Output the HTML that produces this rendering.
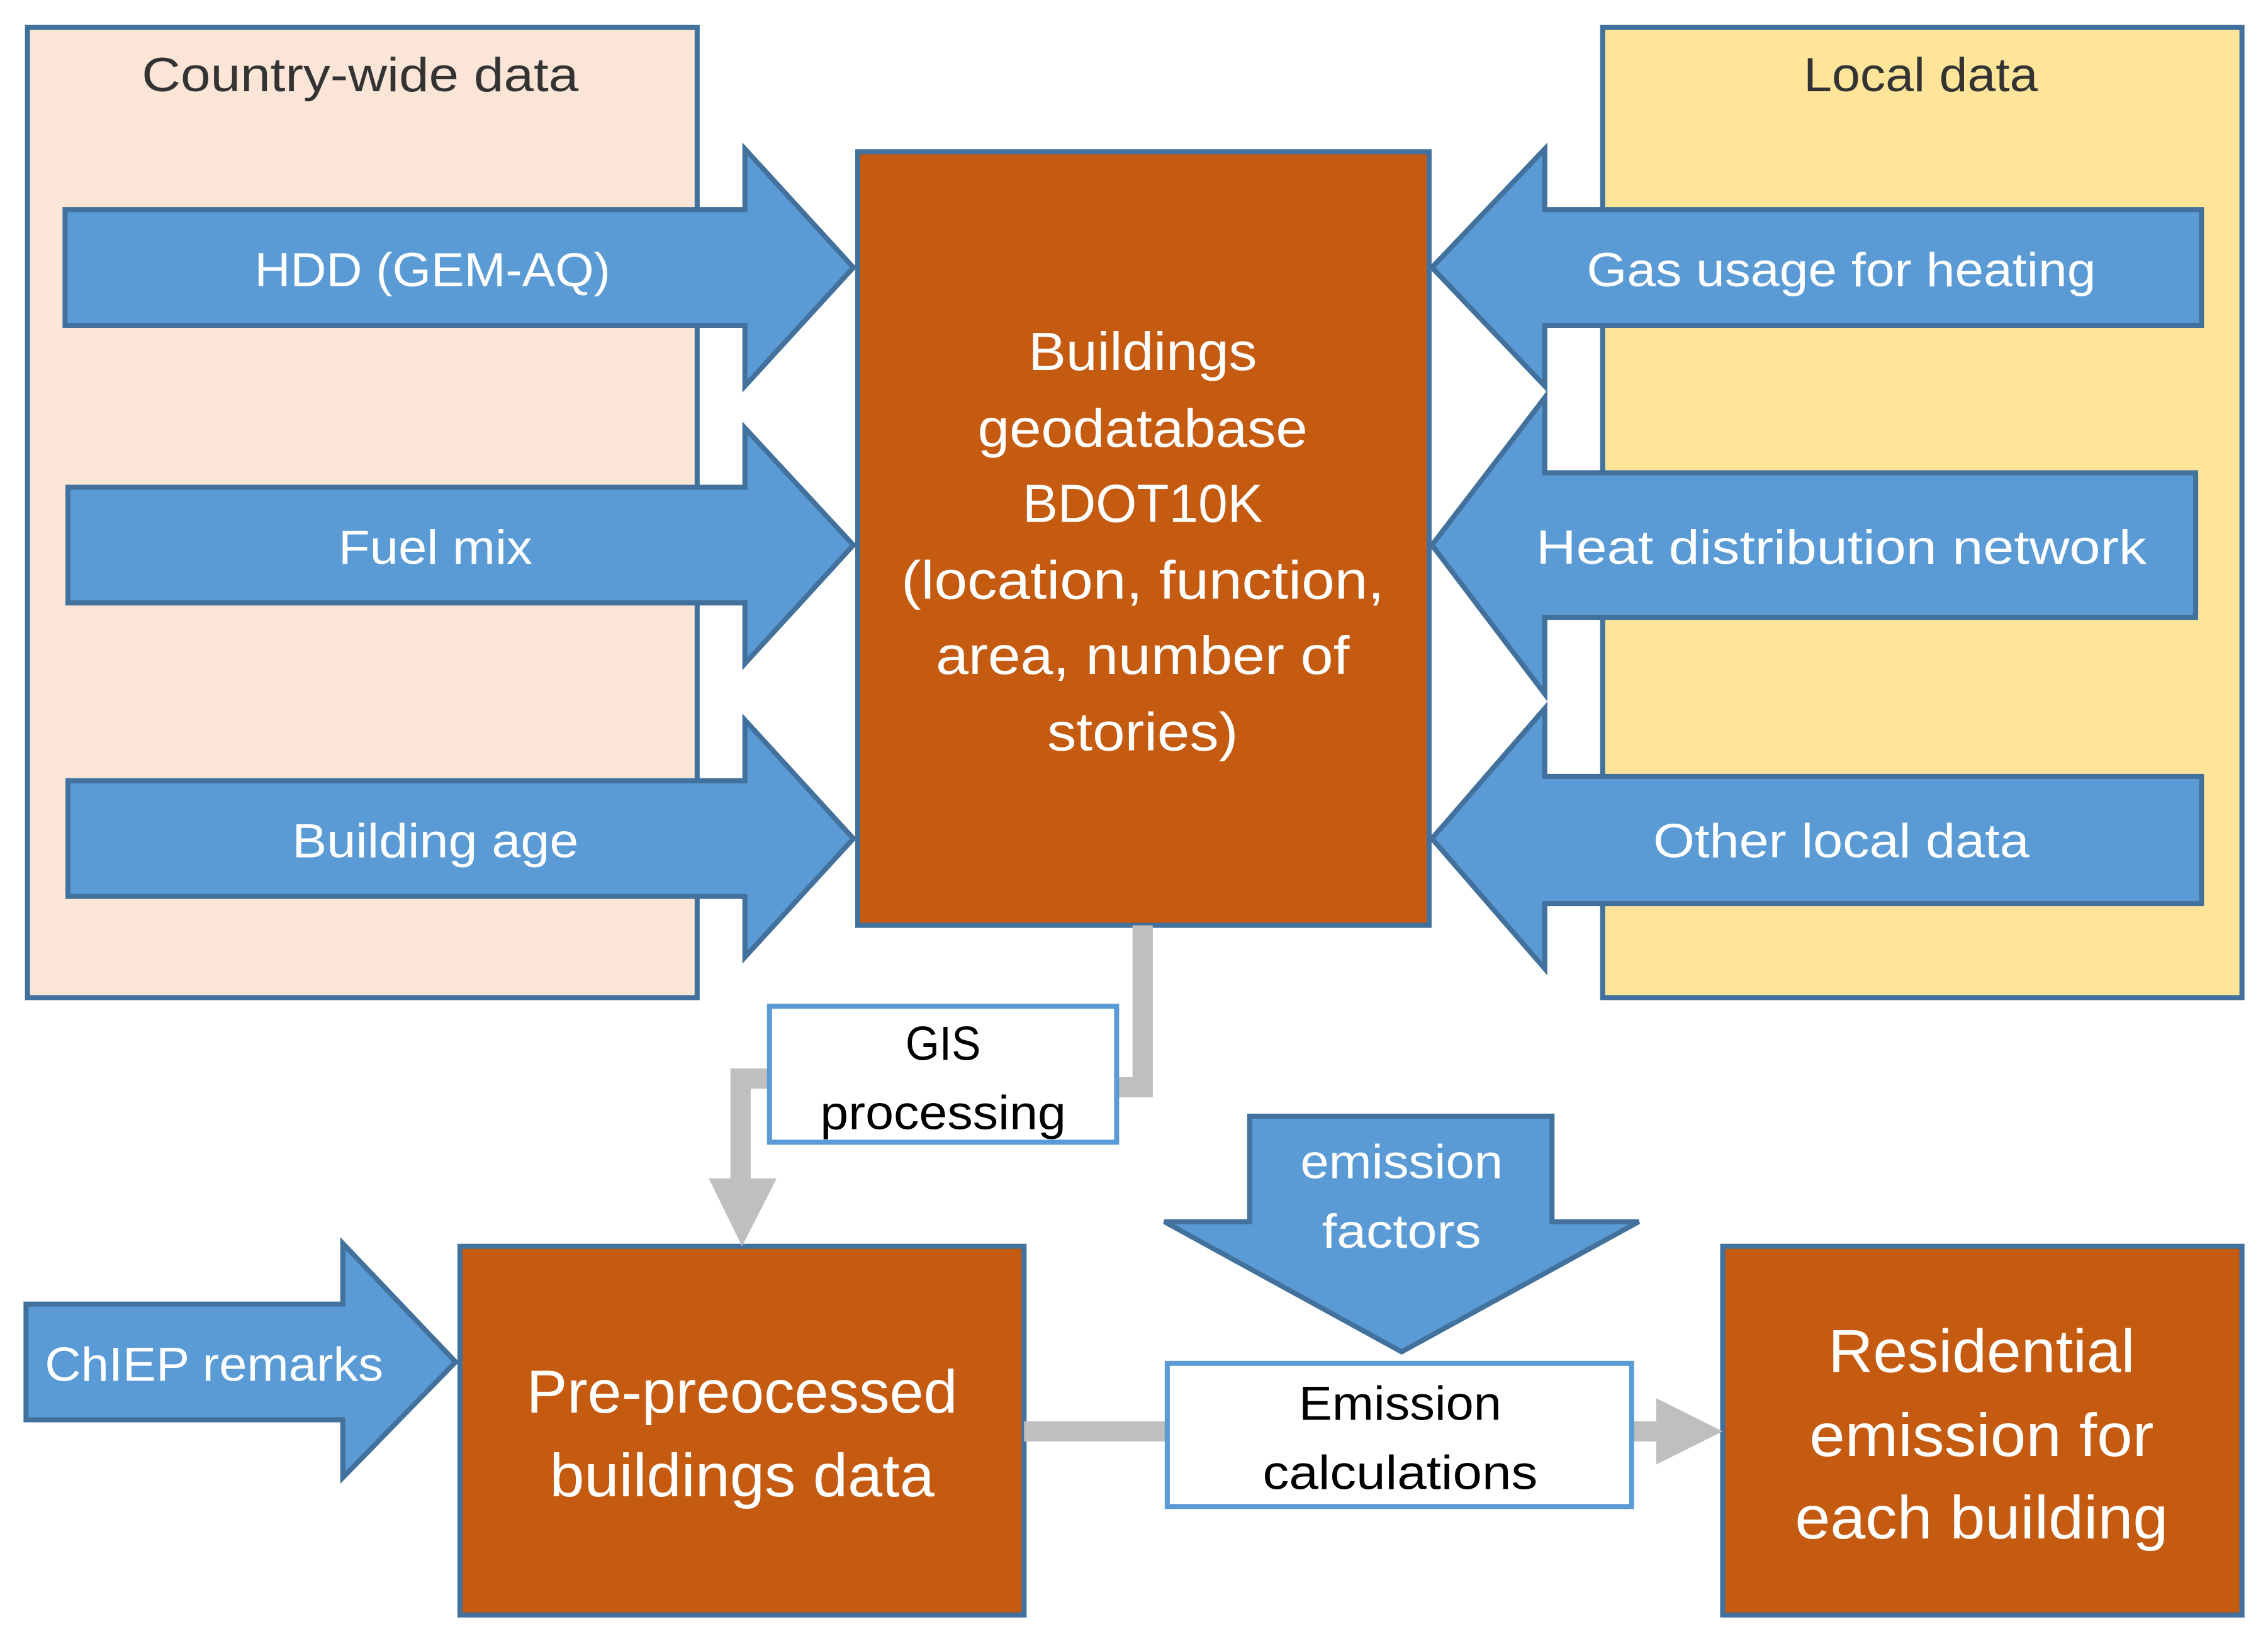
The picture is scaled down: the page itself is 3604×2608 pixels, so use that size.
<!DOCTYPE html>
<html><head><meta charset="utf-8"><style>
html,body{margin:0;padding:0;background:#fff;}
svg{display:block;}
text{font-family:"Liberation Sans",sans-serif;text-anchor:middle;}
</style></head><body>
<svg width="3604" height="2608" viewBox="0 0 1568 1135" preserveAspectRatio="none" xmlns="http://www.w3.org/2000/svg">
<g stroke="#41719c" stroke-width="3.5">
<rect x="19" y="19" width="463" height="671" fill="#fbe5d6"/>
<rect x="1108" y="19" width="442" height="671" fill="#fee599"/>
<rect x="593" y="105" width="395" height="535" fill="#c55a11"/>
<g fill="#5b9bd5">
<polygon points="45,145 515,145 515,103 590,185 515,267 515,225 45,225"/>
<polygon points="47,337 515,337 515,296 590,377 515,459 515,417 47,417"/>
<polygon points="47,540 515,540 515,498 590,580 515,662 515,620 47,620"/>
<polygon points="1522,145 1068,145 1068,103 990,185 1068,267 1068,225 1522,225"/>
<polygon points="1518,327 1068,327 1068,275 990,377 1068,480 1068,427 1518,427"/>
<polygon points="1522,537 1068,537 1068,490 990,580 1068,670 1068,625 1522,625"/>
<polygon points="18,902 237,902 237,860 315,942 237,1022 237,982 18,982"/>
<polygon points="864,772 1073,772 1073,845 1133,845 969,935 805,845 864,845"/>
</g>
<rect x="318" y="862" width="390" height="255" fill="#c55a11"/>
<rect x="1191" y="862" width="359" height="255" fill="#c55a11"/>
</g>
<g fill="none" stroke="#bfbfbf" stroke-width="14">
<polyline points="790,640 790,752 772,752"/>
<polyline points="532,746 512,746 512,818"/>
<line x1="708" y1="990" x2="807" y2="990"/>
<line x1="1128" y1="990" x2="1148" y2="990"/>
</g>
<polygon points="490,815 537,815 513,862" fill="#bfbfbf"/>
<polygon points="1145,967 1191,990 1145,1013" fill="#bfbfbf"/>
<g stroke="#5b9bd5" stroke-width="3.5" fill="#fff">
<rect x="532" y="696" width="240" height="94"/>
<rect x="807" y="943" width="321" height="99"/>
</g>
<g fill="#333" font-size="33">
<text x="249" y="63" textLength="302" lengthAdjust="spacingAndGlyphs">Country-wide data</text>
<text x="1328" y="63" textLength="162" lengthAdjust="spacingAndGlyphs">Local data</text>
</g>
<g fill="#fff" font-size="33">
<text x="299" y="198" textLength="246" lengthAdjust="spacingAndGlyphs">HDD (GEM-AQ)</text>
<text x="301" y="390" textLength="134" lengthAdjust="spacingAndGlyphs">Fuel mix</text>
<text x="301" y="593" textLength="198" lengthAdjust="spacingAndGlyphs">Building age</text>
<text x="1273" y="198" textLength="352" lengthAdjust="spacingAndGlyphs">Gas usage for heating</text>
<text x="1273" y="390" textLength="422" lengthAdjust="spacingAndGlyphs">Heat distribution network</text>
<text x="1273" y="593" textLength="260" lengthAdjust="spacingAndGlyphs">Other local data</text>
<text x="148" y="955" textLength="234" lengthAdjust="spacingAndGlyphs">ChIEP remarks</text>
<text x="969" y="815" textLength="140" lengthAdjust="spacingAndGlyphs">emission</text>
<text x="969" y="863" textLength="110" lengthAdjust="spacingAndGlyphs">factors</text>
</g>
<g fill="#fff" font-size="37">
<text x="790" y="256" textLength="158" lengthAdjust="spacingAndGlyphs">Buildings</text>
<text x="790" y="309" textLength="228" lengthAdjust="spacingAndGlyphs">geodatabase</text>
<text x="790" y="361" textLength="166" lengthAdjust="spacingAndGlyphs">BDOT10K</text>
<text x="790" y="414" textLength="334" lengthAdjust="spacingAndGlyphs">(location, function,</text>
<text x="790" y="466" textLength="286" lengthAdjust="spacingAndGlyphs">area, number of</text>
<text x="790" y="519" textLength="132" lengthAdjust="spacingAndGlyphs">stories)</text>
</g>
<g fill="#fff" font-size="42">
<text x="513" y="977" textLength="298" lengthAdjust="spacingAndGlyphs">Pre-preocessed</text>
<text x="513" y="1035" textLength="266" lengthAdjust="spacingAndGlyphs">buildings data</text>
<text x="1370" y="949" textLength="212" lengthAdjust="spacingAndGlyphs">Residential</text>
<text x="1370" y="1007" textLength="238" lengthAdjust="spacingAndGlyphs">emission for</text>
<text x="1370" y="1064" textLength="258" lengthAdjust="spacingAndGlyphs">each building</text>
</g>
<g fill="#000" font-size="33">
<text x="652" y="733" textLength="52" lengthAdjust="spacingAndGlyphs">GIS</text>
<text x="652" y="781" textLength="170" lengthAdjust="spacingAndGlyphs">processing</text>
<text x="968" y="982" textLength="140" lengthAdjust="spacingAndGlyphs">Emission</text>
<text x="968" y="1030" textLength="190" lengthAdjust="spacingAndGlyphs">calculations</text>
</g>
</svg>
</body></html>
